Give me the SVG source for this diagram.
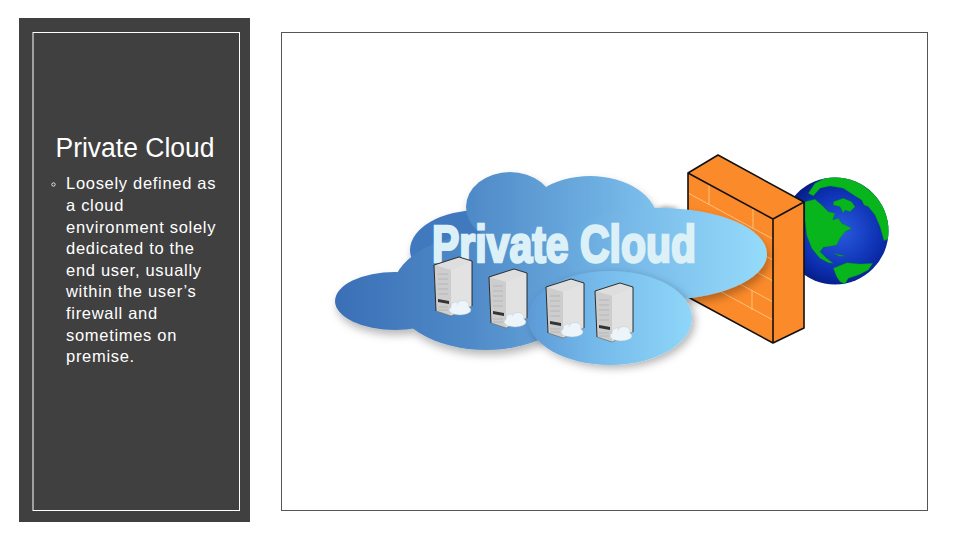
<svg xmlns="http://www.w3.org/2000/svg" width="960" height="540" viewBox="0 0 960 540">
<style>
.t{font-family:"Liberation Sans",Arial,sans-serif;fill:#fff}
.b{font-size:16.5px;letter-spacing:.7px}
.brick{stroke:#ffc27a;stroke-width:1;fill:none}
.edge{stroke:#111;stroke-width:1.6;stroke-linejoin:round}
.land{fill:#08b51c;stroke:#0a7a20;stroke-width:1}
</style>
<defs>
<linearGradient id="cg" gradientUnits="userSpaceOnUse" x1="335" y1="0" x2="720" y2="0">
<stop offset="0" stop-color="#3a6fb6"/><stop offset=".35" stop-color="#4f8ac8"/><stop offset=".7" stop-color="#6fb0e2"/><stop offset="1" stop-color="#90d7f9"/>
</linearGradient>
<linearGradient id="rg" gradientUnits="userSpaceOnUse" x1="553" y1="0" x2="767" y2="0">
<stop offset="0" stop-color="#63a4da"/><stop offset=".45" stop-color="#7cbeeb"/><stop offset="1" stop-color="#95dbfb"/>
</linearGradient>
<linearGradient id="bg" gradientUnits="userSpaceOnUse" x1="528" y1="0" x2="692" y2="0">
<stop offset="0" stop-color="#5c9ad6"/><stop offset=".4" stop-color="#74b9ea"/><stop offset="1" stop-color="#8fd6f9"/>
</linearGradient>
<radialGradient id="gg" cx=".55" cy=".5" r=".55"><stop offset="0" stop-color="#2a5be0"/><stop offset=".7" stop-color="#0c2fb0"/><stop offset="1" stop-color="#051a80"/></radialGradient>
<filter id="sh" x="-20%" y="-20%" width="140%" height="150%"><feDropShadow dx="2" dy="5" stdDeviation="4" flood-color="#000" flood-opacity=".28"/></filter>
<filter id="sh3" x="-20%" y="-30%" width="140%" height="170%"><feDropShadow dx="3" dy="3" stdDeviation="4" flood-color="#000" flood-opacity=".3"/></filter>
<filter id="bl" x="-30%" y="-30%" width="160%" height="160%"><feGaussianBlur stdDeviation="2"/></filter>
<clipPath id="gc"><circle cx="835" cy="231" r="53.500"/></clipPath>
<g id="srv">
<path d="M0 8L25 0L38 4V49L17 59L2 54Z" fill="#d8d8d8"/>
<path d="M0 8L25 0L38 4L17 13Z" fill="#dedede"/>
<path d="M0 8L17 13V59L2 54Z" fill="#cdcdcd"/>
<path d="M17 13L38 4V49L17 59Z" fill="#e2e2e2"/>
<path d="M2 54L0 8L25 0L38 4V49" fill="none" stroke="#1a1a1a" stroke-width=".9"/>
<path d="M2 54L17 59L38 49" fill="none" stroke="#555" stroke-width=".6"/>
<path d="M4 17H14M4 22H14M4 27H14M4 32H14M4 37H14" stroke="#aaa" stroke-width=".6"/>
<path d="M4 42L15 44V47L4 45Z" fill="#333"/>
<path d="M4 50H14M4 53H14" stroke="#aaa" stroke-width=".6"/>
<g fill="#eef5fa" stroke="#a9c0d0" stroke-width=".4"><ellipse cx="26" cy="53" rx="11" ry="5"/><ellipse cx="22" cy="49" rx="5" ry="4"/><ellipse cx="29" cy="48" rx="6" ry="4.500"/><ellipse cx="26" cy="51" rx="9" ry="3.500" stroke="none"/></g>
</g>
</defs>
<rect width="960" height="540" fill="#fff"/>
<rect x="19" y="18" width="231" height="504" fill="#404040"/>
<rect x="33" y="32.500" width="206.500" height="478" fill="none" stroke="#fff" stroke-width="1"/>
<rect x="281.500" y="32.500" width="646" height="478" fill="#fff" stroke="#555" stroke-width="1"/>
<text class="t" x="55.500" y="157" font-size="27" textLength="159" lengthAdjust="spacingAndGlyphs">Private Cloud</text>
<circle cx="53.500" cy="184.500" r="1.700" fill="none" stroke="#fff" stroke-width=".8"/>
<g class="t b">
<text x="66" y="189">Loosely defined as</text>
<text x="66" y="211">a cloud</text>
<text x="66" y="233">environment solely</text>
<text x="66" y="254">dedicated to the</text>
<text x="66" y="276">end user, usually</text>
<text x="66" y="297">within the user’s</text>
<text x="66" y="319">firewall and</text>
<text x="66" y="341">sometimes on</text>
<text x="66" y="362">premise.</text>
</g>
<g id="globe">
<circle cx="835" cy="231" r="53.500" fill="url(#gg)"/>
<g clip-path="url(#gc)"><g transform="translate(790 170) scale(.3333)">
<path class="land" d="M55 70L75 40L110 22L160 20L210 40L250 70L285 110L300 160L300 205L282 212L270 170L255 135L235 110L222 105L215 90L195 78L160 55L120 48L90 55L70 78Z"/>
<path class="land" d="M45 95L75 88L95 105L115 125L135 130L128 150L145 145L155 160L185 175L165 185L150 205L140 225L125 228L100 232L90 245L110 265L130 280L115 278L90 265L65 235L50 195L45 150Z"/>
<path class="land" d="M130 95L160 85L185 95L195 110L180 125L165 120L160 130L150 110L130 105Z"/>
<path class="land" d="M130 295L170 278L210 282L248 280L235 300L205 315L175 325L165 342L150 335L140 320Z"/>
<path class="land" d="M130 250L165 258L150 259Z"/>
</g></g>
</g>
<g id="firewall">
<path d="M688 173L773 219V343L688 297Z" fill="#fb8a2a"/>
<path class="brick" d="M688 193L773 239M688 214L773 260M688 235L773 281M688 256L773 302M688 274L773 320M709 185V205M753 209V229M752 290V310"/>
<path d="M688 173L718 155L804 202L773 219Z" fill="#fb8a2a"/>
<path d="M773 219L804 202V328L773 343Z" fill="#fb8a2a"/>
<path class="edge" fill="none" d="M688 297V173L718 155L804 202V328L773 343L688 297M688 173L773 219L804 202M773 219V343"/>
</g>
<g id="cloud">
<path d="M648 213L664 206L680 208L650 220Z" fill="#000" opacity=".3" filter="url(#bl)"/>
<g filter="url(#sh)">
<ellipse cx="395" cy="301" rx="60" ry="29" fill="url(#cg)"/>
<ellipse cx="480" cy="250" rx="70" ry="40" fill="#3f79be"/>
<ellipse cx="510" cy="207" rx="44" ry="35" fill="url(#cg)"/>
<ellipse cx="590" cy="222" rx="68" ry="46" fill="url(#cg)"/>
<ellipse cx="660" cy="254" rx="107" ry="46" fill="url(#rg)"/>
<ellipse cx="486" cy="292" rx="94" ry="58" fill="url(#cg)"/>
</g>
<ellipse cx="610" cy="318" rx="82" ry="47" fill="url(#bg)" filter="url(#sh3)"/>
</g>
<text x="432" y="262" font-family="Liberation Sans,Arial,sans-serif" font-weight="700" font-size="52" fill="#dcf0f8" stroke="#dcf0f8" stroke-width="2.600" textLength="264" lengthAdjust="spacingAndGlyphs">Private Cloud</text>
<g id="servers">
<use href="#srv" x="434" y="257"/>
<use href="#srv" x="489" y="269"/>
<use href="#srv" x="546" y="279"/>
<use href="#srv" x="595" y="283"/>
</g>
</svg>
